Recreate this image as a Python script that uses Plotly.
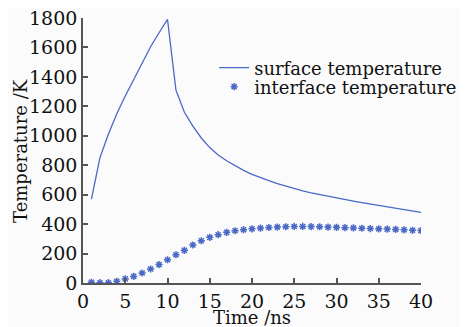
import plotly.graph_objects as go

time_ns = list(range(1, 41))
surface_temp = [570, 850, 1010, 1150, 1270, 1385, 1495, 1605, 1700, 1790,
                1310, 1160, 1065, 985, 920, 870, 830, 795, 765, 738,
                715, 695, 675, 657, 641, 626, 612, 600, 588, 577,
                566, 556, 546, 537, 527, 518, 509, 500, 490, 480]
interface_temp = [5, 2, 2, 12, 28, 45, 68, 95, 125, 158,
                  192, 222, 258, 287, 310, 328, 344, 355, 362, 368,
                  373, 377, 380, 382, 384, 384, 383, 382, 380, 378,
                  376, 374, 372, 370, 368, 366, 364, 361, 358, 356]
x_ticks = [0, 5, 10, 15, 20, 25, 30, 35, 40]
y_ticks = list(range(0, 1801, 200))

font_family = "DejaVu Serif"
text_color = "#111111"
line_color = "#4a68c6"

fig = go.Figure()
fig.add_trace(go.Scatter(x=time_ns, y=surface_temp, mode="lines",
                         name="surface temperature", legend="legend",
                         showlegend=True,
                         line=dict(color=line_color, width=1.3)))
fig.add_trace(go.Scatter(x=time_ns, y=interface_temp, mode="markers",
                         name="interface temperature", legend="legend2",
                         showlegend=True,
                         marker=dict(symbol="asterisk-open", size=6,
                                     color=line_color,
                                     line=dict(color=line_color, width=1.5))))

axis_common = dict(showgrid=False, zeroline=False, showline=True,
                   linecolor="#555555", linewidth=1.6, ticks="inside",
                   ticklen=5, tickcolor="#555555", tickwidth=1.5,
                   ticklabeloverflow="allow", automargin=False,
                   tickfont=dict(family=font_family, size=19, color=text_color),
                   mirror=False)

legend_common = dict(xanchor="left", yanchor="middle",
                     bgcolor="rgba(0,0,0,0)", itemwidth=30,
                     font=dict(family=font_family, size=18, color=text_color))

fig.update_layout(
    width=468, height=327,
    showlegend=True,
    margin=dict(l=75, r=55, t=10, b=52),
    paper_bgcolor="#fbfbfb", plot_bgcolor="#fbfbfb",
    font=dict(family=font_family, size=18, color=text_color),
    xaxis=dict(range=[0, 40], tickvals=x_ticks, **axis_common),
    yaxis=dict(range=[0, 1800], tickvals=y_ticks, **axis_common),
    legend=dict(x=0.388, y=0.8113, **legend_common),
    legend2=dict(x=0.388, y=0.7397, **legend_common),
    annotations=[
        dict(text="Time /ns", xref="paper", yref="paper", x=0.5, y=-0.132,
             xanchor="center", yanchor="middle", showarrow=False,
             font=dict(family=font_family, size=18, color=text_color)),
        dict(text="Temperature /K", xref="paper", yref="paper", x=-0.185,
             y=0.5, xanchor="center", yanchor="middle", showarrow=False,
             textangle=-90,
             font=dict(family=font_family, size=18, color=text_color)),
    ],
)

fig.write_html("out.html")
